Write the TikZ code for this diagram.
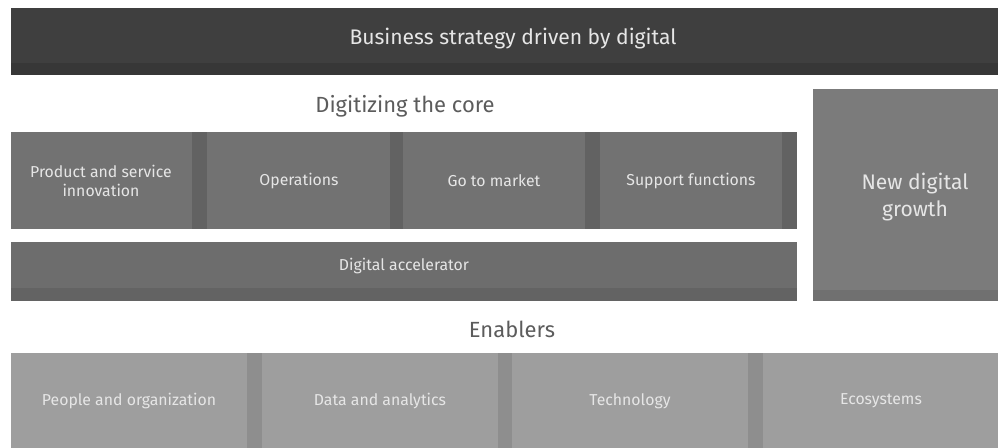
\documentclass[tikz,border=0pt]{standalone}
\usepackage{fontspec}
\setmainfont{Fira Sans}
\usepackage{tikz}

\definecolor{TopBar}{HTML}{3F3F3F}
\definecolor{TopBarEdge}{HTML}{373737}
\definecolor{CoreBox}{HTML}{727272}
\definecolor{CoreEdge}{HTML}{626262}
\definecolor{AccelBox}{HTML}{6D6D6D}
\definecolor{AccelEdge}{HTML}{636363}
\definecolor{GrowthBox}{HTML}{7B7B7B}
\definecolor{GrowthEdge}{HTML}{707070}
\definecolor{EnablerBox}{HTML}{9E9E9E}
\definecolor{EnablerEdge}{HTML}{8E8E8E}
\definecolor{BoxText}{HTML}{E6E6E6}
\definecolor{HeadText}{HTML}{5C5C5C}

\begin{document}
\begin{tikzpicture}[x=0.02cm, y=-0.02cm,
        heading/.style = {text=HeadText, font=\fontsize{12.5}{15}\selectfont},
        boxtext/.style = {text=BoxText, font=\fontsize{9}{11}\selectfont, align=center},
        bigtext/.style = {text=BoxText, font=\fontsize{12}{15}\selectfont, align=center}]

        \useasboundingbox (0,0) rectangle (998,448);

        % Business strategy bar
        \fill[TopBar] (11,8) rectangle (998,75);
        \fill[TopBarEdge] (11,63) rectangle (998,75);
        \node[bigtext] (strategy) at (513,39) {Business strategy driven by digital};

        % Digitizing the core
        \node[heading] (core) at (405,106) {Digitizing the core};

        \foreach \a/\b/\c in {11/192/207, 207/390/403, 403/585/600, 600/782/797} {
            \fill[CoreBox] (\a,132) rectangle (\b,229);
            \fill[CoreEdge] (\b,132) rectangle (\c,229);
        }
        \node[boxtext] (product) at (101,181) {Product and service\\innovation};
        \node[boxtext] (operations) at (299,181) {Operations};
        \node[boxtext] (market) at (494,181) {Go to market};
        \node[boxtext] (support) at (691,181) {Support functions};

        % Digital accelerator
        \fill[AccelBox] (11,242) rectangle (797,301);
        \fill[AccelEdge] (11,288) rectangle (797,301);
        \node[boxtext] (accelerator) at (404,266) {Digital accelerator};

        % New digital growth
        \fill[GrowthBox] (813,89) rectangle (998,301);
        \fill[GrowthEdge] (813,290) rectangle (998,301);
        \node[bigtext] (growth) at (915,197) {New digital\\growth};

        % Enablers
        \node[heading] (enablers) at (512,329) {Enablers};

        \fill[EnablerBox] (11,353) rectangle (998,448);
        \foreach \a/\b in {247/262, 498/512, 748/763}
            \fill[EnablerEdge] (\a,353) rectangle (\b,448);
        \node[boxtext] (people) at (129,401) {People and organization};
        \node[boxtext] (data) at (380,401) {Data and analytics};
        \node[boxtext] (technology) at (630,401) {Technology};
        \node[boxtext] (ecosystems) at (881,401) {Ecosystems};

    \end{tikzpicture}
\end{document}
